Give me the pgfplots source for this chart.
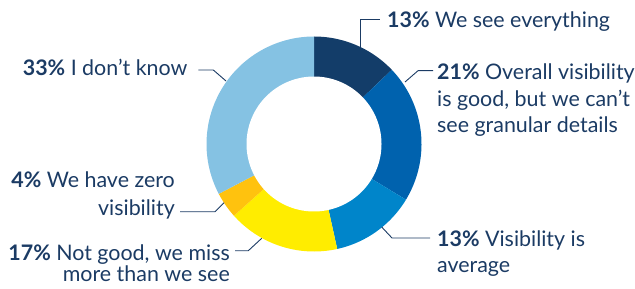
\documentclass[border=0pt]{standalone}
\usepackage{pgfplots}
\pgfplotsset{compat=1.18}
\usepackage{fontspec}
\setmainfont{Lato}
\definecolor{cNavy}{HTML}{133D69}
\definecolor{cBlue}{HTML}{0062AE}
\definecolor{cMid}{HTML}{0085CA}
\definecolor{cYel}{HTML}{FFED00}
\definecolor{cOra}{HTML}{FFC20E}
\definecolor{cLight}{HTML}{85C2E3}
\definecolor{cText}{HTML}{1B3B64}
% shares (percent), clockwise from top
\def\pA{13}\def\pB{21}\def\pC{13}\def\pD{17}\def\pE{4}\def\pF{33}
\pgfmathsetmacro{\tot}{\pA+\pB+\pC+\pD+\pE+\pF}
\pgfmathsetmacro{\k}{360/\tot}
\pgfmathsetmacro{\aO}{90}
\pgfmathsetmacro{\aA}{90-\k*(\pA)}
\pgfmathsetmacro{\aB}{90-\k*(\pA+\pB)}
\pgfmathsetmacro{\aC}{90-\k*(\pA+\pB+\pC)}
\pgfmathsetmacro{\aD}{90-\k*(\pA+\pB+\pC+\pD)}
\pgfmathsetmacro{\aE}{90-\k*(\pA+\pB+\pC+\pD+\pE)}
\pgfmathsetmacro{\aF}{-270}
\def\cx{314}\def\cy{144}\def\ro{107.5}\def\ri{67.5}
\begin{document}
\begin{tikzpicture}[x=1bp,y=1bp]
\useasboundingbox (0,0) rectangle (635,288);
\begin{axis}[at={(0,0)},anchor=south west,scale only axis,
  width=635bp,height=288bp,xmin=0,xmax=635,ymin=0,ymax=288,
  hide axis,clip=false]
\addplot[fill=cNavy,draw=none,domain=\aA:\aO,samples=40,variable=\t]
  ({\cx+\ro*cos(\t)},{\cy+\ro*sin(\t)}) -- (axis cs:\cx,\cy) -- cycle;
\addplot[fill=cBlue,draw=none,domain=\aB:\aA,samples=40,variable=\t]
  ({\cx+\ro*cos(\t)},{\cy+\ro*sin(\t)}) -- (axis cs:\cx,\cy) -- cycle;
\addplot[fill=cMid,draw=none,domain=\aC:\aB,samples=40,variable=\t]
  ({\cx+\ro*cos(\t)},{\cy+\ro*sin(\t)}) -- (axis cs:\cx,\cy) -- cycle;
\addplot[fill=cYel,draw=none,domain=\aD:\aC,samples=40,variable=\t]
  ({\cx+\ro*cos(\t)},{\cy+\ro*sin(\t)}) -- (axis cs:\cx,\cy) -- cycle;
\addplot[fill=cOra,draw=none,domain=\aE:\aD,samples=20,variable=\t]
  ({\cx+\ro*cos(\t)},{\cy+\ro*sin(\t)}) -- (axis cs:\cx,\cy) -- cycle;
\addplot[fill=cLight,draw=none,domain=\aF:\aE,samples=60,variable=\t]
  ({\cx+\ro*cos(\t)},{\cy+\ro*sin(\t)}) -- (axis cs:\cx,\cy) -- cycle;
\addplot[fill=white,draw=none,domain=0:360,samples=120,variable=\t]
  ({\cx+\ri*cos(\t)},{\cy+\ri*sin(\t)}) -- cycle;
% leader lines
\draw[cText,line width=0.9bp] (axis cs:360,241.3) -- (axis cs:360,269) -- (axis cs:380,269);
\draw[cText,line width=0.9bp] (axis cs:405,206) -- (axis cs:418,217.3) -- (axis cs:433,217.3);
\draw[cText,line width=0.9bp] (axis cs:381.7,61) -- (axis cs:392,50) -- (axis cs:430,50);
\draw[cText,line width=0.9bp] (axis cs:261.7,49.7) -- (axis cs:248.3,37.3) -- (axis cs:235,37.3);
\draw[cText,line width=0.9bp] (axis cs:224,85.3) -- (axis cs:215,76.3) -- (axis cs:180,76.3);
\draw[cText,line width=0.9bp] (axis cs:226,207) -- (axis cs:213.3,218) -- (axis cs:198.3,218);
% labels
\tikzset{lab/.style={text=cText,font=\fontsize{21.5}{26}\selectfont,inner sep=0pt}}
\node[lab,anchor=base west] at (axis cs:387,260) {\textbf{13\%} We see everything};
\node[lab,anchor=base west] at (axis cs:437,208) {\textbf{21\%} Overall visibility};
\node[lab,anchor=base west] at (axis cs:437,181.5) {is good, but we can’t};
\node[lab,anchor=base west] at (axis cs:437,155.3) {see granular details};
\node[lab,anchor=base west] at (axis cs:437,41.3) {\textbf{13\%} Visibility is};
\node[lab,anchor=base west] at (axis cs:437,15.5) {average};
\node[lab,anchor=base east] at (axis cs:230,28) {\textbf{17\%} Not good, we miss};
\node[lab,anchor=base east] at (axis cs:230,6.3) {more than we see};
\node[lab,anchor=base east] at (axis cs:175,100) {\textbf{4\%} We have zero};
\node[lab,anchor=base east] at (axis cs:175,73) {visibility};
\node[lab,anchor=base west] at (axis cs:22.7,212) {\textbf{33\%} I don’t know};
\end{axis}
\end{tikzpicture}
\end{document}
